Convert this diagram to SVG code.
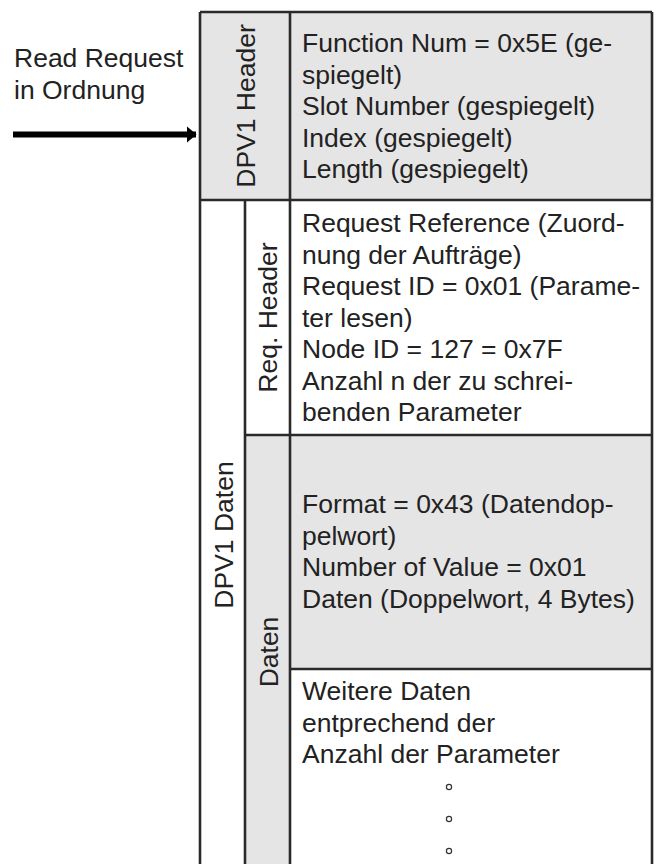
<svg xmlns="http://www.w3.org/2000/svg" width="661" height="864" viewBox="0 0 661 864">
  <style>
    .txt { font-family: "Liberation Sans", Arial, sans-serif; font-size: 26.5px; fill: #222; }
    .mid { text-anchor: middle; }
    .line { stroke: #2a2a2a; stroke-width: 2.6; fill: none; }
    .shade { fill: #e5e5e5; }
    .dot { fill: none; stroke: #333; stroke-width: 1.2; }
  </style>
  <defs>
    <marker id="arrowhead" markerWidth="10" markerHeight="18" refX="9.5" refY="9" orient="auto" markerUnits="userSpaceOnUse">
      <path d="M0,0.5 L10,9 L0,17.5 Z" fill="#000"/>
    </marker>
  </defs>

  <rect width="661" height="864" fill="#fff"/>

  <!-- incoming request label -->
  <g id="label-read-request">
    <text class="txt" x="14" y="67">Read Request</text>
    <text class="txt" x="14" y="98.5">in Ordnung</text>
  </g>

  <!-- DPV1 header block -->
  <g id="dpv1-header">
    <rect class="shade" x="200" y="12" width="452" height="188"/>
    <text class="txt mid" transform="translate(255,106) rotate(-90)">DPV1 Header</text>
    <text class="txt" x="302" y="52">Function Num = 0x5E (ge-</text>
    <text class="txt" x="302" y="83.5">spiegelt)</text>
    <text class="txt" x="302" y="115">Slot Number (gespiegelt)</text>
    <text class="txt" x="302" y="146.5">Index (gespiegelt)</text>
    <text class="txt" x="302" y="178">Length (gespiegelt)</text>
  </g>

  <!-- DPV1 data block -->
  <g id="dpv1-daten">
    <text class="txt mid" transform="translate(233,535) rotate(-90)">DPV1 Daten</text>
  </g>

  <!-- request header -->
  <g id="req-header">
    <text class="txt mid" transform="translate(277,317.5) rotate(-90)">Req. Header</text>
    <text class="txt" x="302" y="232">Request Reference (Zuord-</text>
    <text class="txt" x="302" y="263.5">nung der Aufträge)</text>
    <text class="txt" x="302" y="295">Request ID = 0x01 (Parame-</text>
    <text class="txt" x="302" y="326.5">ter lesen)</text>
    <text class="txt" x="302" y="358">Node ID = 127 = 0x7F</text>
    <text class="txt" x="302" y="389.5">Anzahl n der zu schrei-</text>
    <text class="txt" x="302" y="421">benden Parameter</text>
  </g>

  <!-- data section -->
  <g id="daten">
    <rect class="shade" x="245" y="435" width="45" height="429"/>
    <rect class="shade" x="290" y="435" width="362" height="234"/>
    <text class="txt mid" transform="translate(278,652) rotate(-90)">Daten</text>
    <text class="txt" x="302" y="513">Format = 0x43 (Datendop-</text>
    <text class="txt" x="302" y="544.5">pelwort)</text>
    <text class="txt" x="302" y="576">Number of Value = 0x01</text>
    <text class="txt" x="302" y="607.5">Daten (Doppelwort, 4 Bytes)</text>
  </g>

  <!-- further data -->
  <g id="weitere-daten">
    <text class="txt" x="302" y="700">Weitere Daten</text>
    <text class="txt" x="302" y="731.5">entprechend der</text>
    <text class="txt" x="302" y="763">Anzahl der Parameter</text>
    <circle class="dot" cx="449" cy="787" r="2.6"/>
    <circle class="dot" cx="449" cy="819" r="2.6"/>
    <circle class="dot" cx="449" cy="851" r="2.6"/>
  </g>

  <!-- frame grid -->
  <g id="grid">
    <path class="line" d="M200,12 H652 M200,200 H652 M245,435 H652 M290,669 H652"/>
    <path class="line" d="M200,12 V866 M652,12 V866 M290,12 V866 M245,200 V866"/>
  </g>

  <!-- connectors -->
  <g id="connectors">
    <line x1="13" y1="134.5" x2="196" y2="134.5" stroke="#000" stroke-width="6" marker-end="url(#arrowhead)"/>
  </g>
</svg>
